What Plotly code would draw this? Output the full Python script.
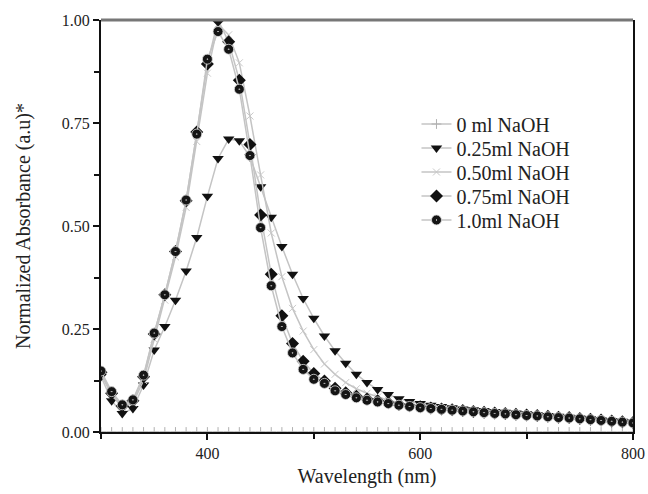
import plotly.graph_objects as go

wavelength = list(range(300, 801, 10))

naoh_0 = [0.0] * 51

naoh_025 = [0.135, 0.076, 0.045, 0.057, 0.114, 0.199, 0.256, 0.320, 0.391, 0.472,
            0.572, 0.664, 0.711, 0.707, 0.668, 0.595, 0.521, 0.450, 0.383, 0.324,
            0.276, 0.233, 0.197, 0.167, 0.140, 0.120, 0.103, 0.091, 0.081, 0.074,
            0.069, 0.065, 0.062, 0.059, 0.056, 0.054, 0.052, 0.050, 0.048, 0.046,
            0.044, 0.042, 0.040, 0.038, 0.036, 0.034, 0.032, 0.030, 0.028, 0.026, 0.024]

naoh_050 = [0.140, 0.090, 0.060, 0.070, 0.125, 0.225, 0.320, 0.425, 0.545, 0.705,
            0.871, 0.990, 0.964, 0.896, 0.767, 0.624, 0.483, 0.377, 0.300, 0.245,
            0.200, 0.165, 0.140, 0.120, 0.105, 0.094, 0.085, 0.077, 0.071, 0.066,
            0.062, 0.058, 0.056, 0.054, 0.052, 0.050, 0.048, 0.046, 0.045, 0.043,
            0.041, 0.040, 0.038, 0.036, 0.035, 0.033, 0.031, 0.029, 0.027, 0.025, 0.023]

naoh_075 = [0.145, 0.094, 0.063, 0.076, 0.134, 0.238, 0.333, 0.438, 0.561, 0.728,
            0.893, 1.000, 0.947, 0.854, 0.698, 0.527, 0.383, 0.282, 0.215, 0.172,
            0.142, 0.124, 0.106, 0.095, 0.087, 0.080, 0.076, 0.071, 0.067, 0.064,
            0.061, 0.058, 0.056, 0.054, 0.052, 0.050, 0.048, 0.046, 0.045, 0.043,
            0.041, 0.040, 0.038, 0.036, 0.035, 0.033, 0.031, 0.029, 0.027, 0.025, 0.023]

naoh_100 = [0.148, 0.098, 0.066, 0.078, 0.138, 0.240, 0.333, 0.438, 0.563, 0.723,
            0.905, 0.972, 0.929, 0.832, 0.671, 0.496, 0.355, 0.256, 0.192, 0.152,
            0.128, 0.118, 0.100, 0.091, 0.083, 0.077, 0.073, 0.069, 0.065, 0.062,
            0.059, 0.057, 0.055, 0.053, 0.051, 0.049, 0.047, 0.045, 0.044, 0.042,
            0.040, 0.039, 0.037, 0.035, 0.034, 0.032, 0.030, 0.028, 0.026, 0.024, 0.022]

series_names = ["0 ml NaOH", "0.25ml NaOH", "0.50ml NaOH", "0.75ml NaOH", "1.0ml NaOH"]
series_values = [naoh_0, naoh_025, naoh_050, naoh_075, naoh_100]

FONT = "Liberation Serif, Times New Roman, serif"
LINE_GRAY = "#c4c4c4"
TEXT = "#222222"

markers = [
    dict(symbol="cross-thin", size=7, color="#b0b0b0", line=dict(color="#b0b0b0", width=1)),
    dict(symbol="triangle-down", size=10, color="#111111", line=dict(width=0)),
    dict(symbol="x-thin", size=7, color="#c8c8c8", line=dict(color="#c8c8c8", width=1)),
    dict(symbol="diamond", size=10, color="#111111", line=dict(width=0)),
    dict(symbol="circle-dot", size=10, color="#151515", line=dict(color="#dddddd", width=0.8)),
]

legend_ids = ["legend", "legend2", "legend3", "legend4", "legend5"]

fig = go.Figure()
for name, vals, mk, lid in zip(series_names, series_values, markers, legend_ids):
    fig.add_trace(go.Scatter(
        x=wavelength, y=vals, name=name, mode="lines+markers",
        line=dict(color=LINE_GRAY, width=1.5),
        marker=mk, legend=lid,
    ))

# page body margin is removed below, so figure pixels == page pixels
W, H = 648, 494
ML, MR, MT, MB = 101, 15, 20, 62
plot_top, plot_bottom = MT, H - MB
row_centers_px = [124, 148, 172, 196, 220]
legend_layout = {}
for lid, cpx in zip(legend_ids, row_centers_px):
    legend_layout[lid] = dict(
        x=0.593, y=(plot_bottom - cpx) / (plot_bottom - plot_top),
        xanchor="left", yanchor="middle",
        bgcolor="rgba(0,0,0,0)", borderwidth=0,
        font=dict(family=FONT, size=20, color=TEXT),
        itemsizing="trace",
    )

fig.update_layout(
    width=W, height=H,
    margin=dict(l=ML, r=MR, t=MT, b=MB),
    paper_bgcolor="white", plot_bgcolor="white",
    font=dict(family=FONT, color=TEXT, size=16),
    showlegend=True,
    hovermode=False,
    xaxis=dict(
        range=[300, 800], showgrid=False, zeroline=False, automargin=False,
        showline=True, linecolor="#111111", linewidth=2, mirror=False,
        tickmode="linear", tick0=400, dtick=200,
        ticks="outside", ticklen=6, tickwidth=1.5, tickcolor="#111111",
        minor=dict(dtick=100, tick0=300, ticks="outside", ticklen=5, tickwidth=1.5, tickcolor="#111111"),
        tickfont=dict(family=FONT, size=16, color=TEXT),
        ticklabeloverflow="allow",
        title=dict(text="Wavelength (nm)", font=dict(family=FONT, size=20, color=TEXT), standoff=8),
    ),
    yaxis=dict(
        range=[0, 1.0], showgrid=False, zeroline=False, automargin=False,
        showline=True, linecolor="#111111", linewidth=2, mirror=True,
        tickmode="linear", tick0=0, dtick=0.25, tickformat=".2f",
        ticks="outside", ticklen=6, tickwidth=1.5, tickcolor="#111111",
        minor=dict(dtick=0.125, ticks="outside", ticklen=5, tickwidth=1.5, tickcolor="#111111"),
        tickfont=dict(family=FONT, size=16, color=TEXT),
        title=dict(text="Normalized Absorbance (a.u)*", font=dict(family=FONT, size=20, color=TEXT), standoff=26),
    ),
    shapes=[dict(type="line", xref="paper", yref="paper", x0=0, x1=1, y0=1, y1=1,
                 line=dict(color="#777777", width=3))],
)
for lid, cfg in legend_layout.items():
    fig.layout[lid] = cfg

fig.write_html(
    "out.html",
    config={"displayModeBar": False},
    post_script="document.body.style.margin='0';document.body.style.overflow='hidden';",
)
